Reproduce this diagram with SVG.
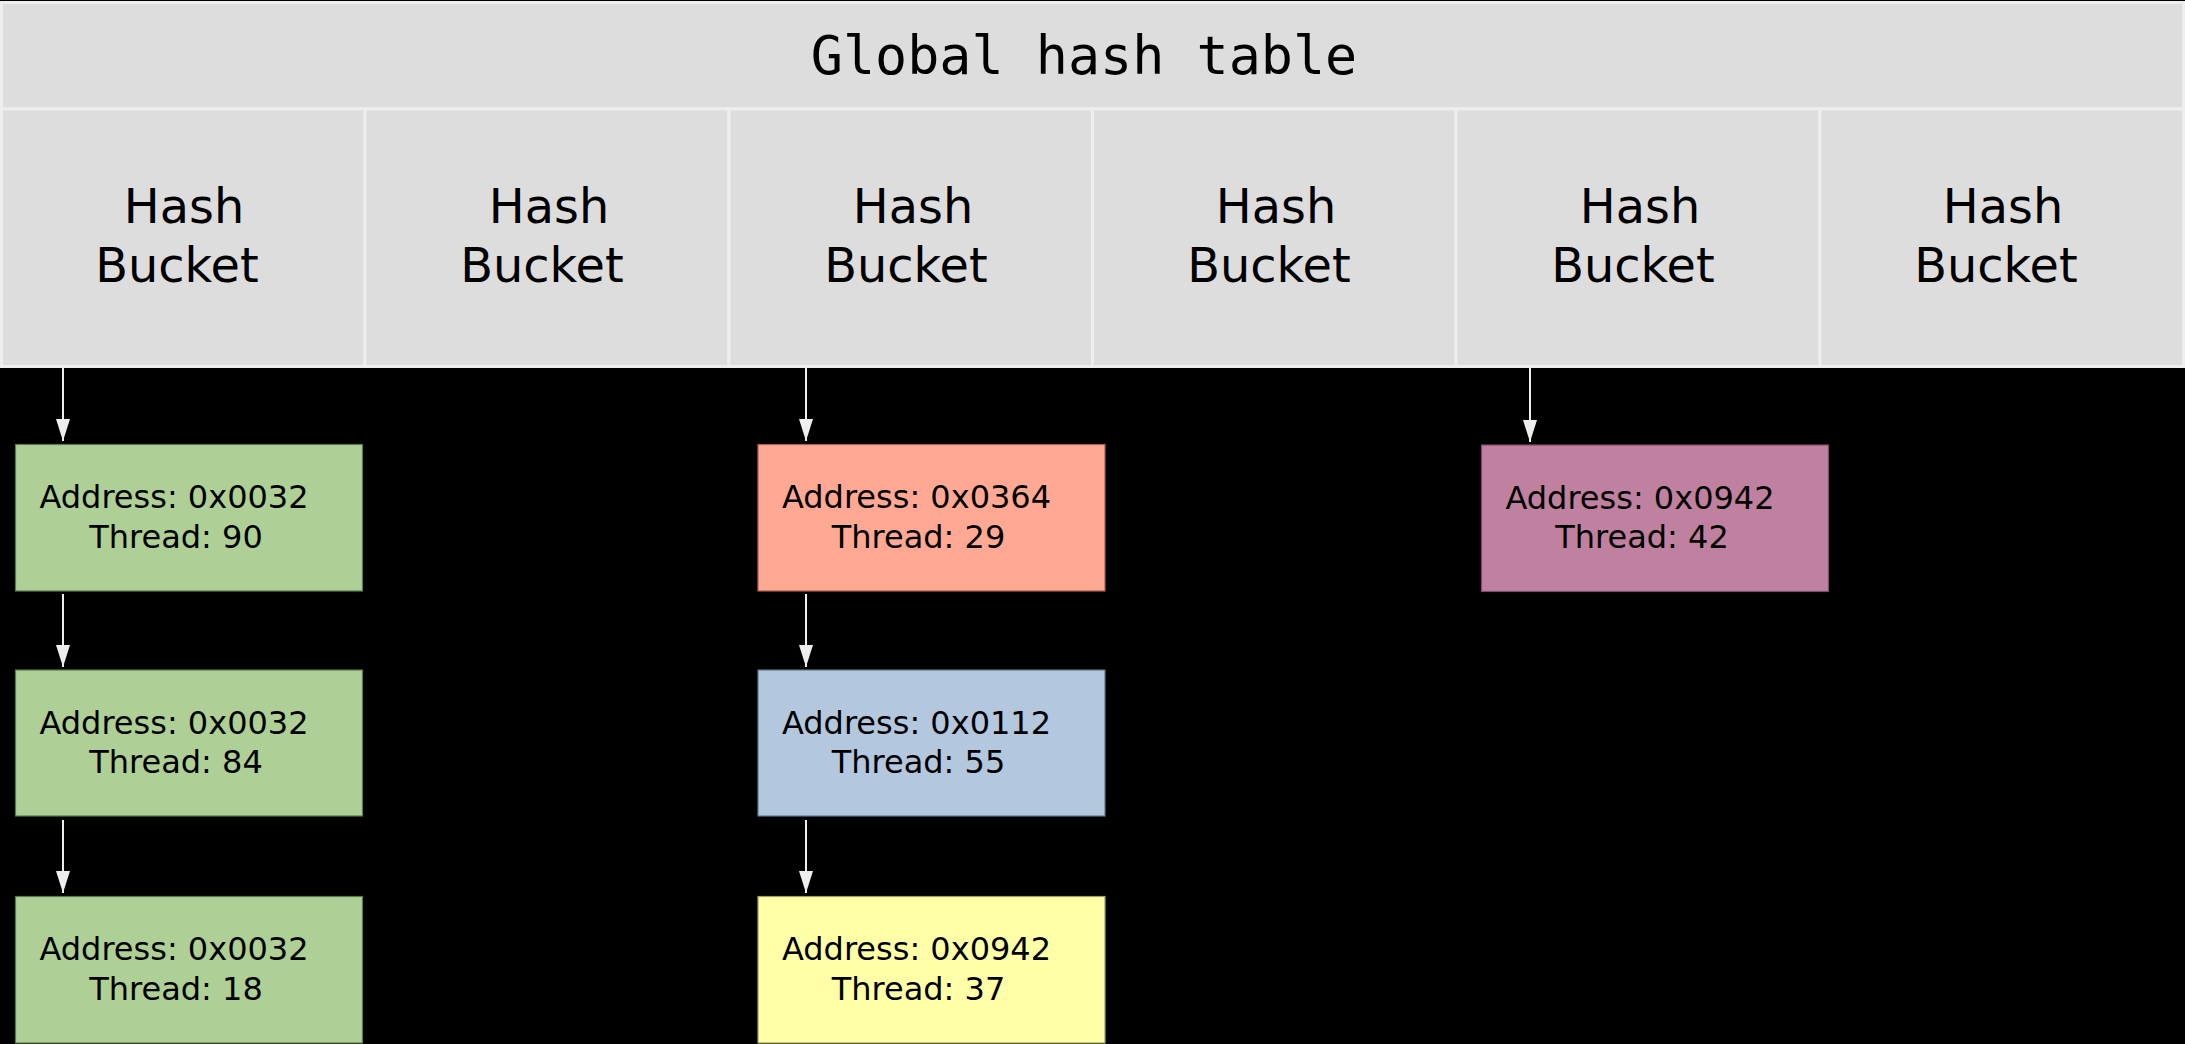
<svg xmlns="http://www.w3.org/2000/svg" width="2185" height="1044" viewBox="0 0 2185 1044">
<defs>
<style>
.cell{fill:#DDDDDD;stroke:#EEEEEE;stroke-width:3}
.title{font-family:"DejaVu Sans Mono","Liberation Mono",monospace;font-size:53.4px;fill:#000;text-anchor:middle}
.bk{font-family:"DejaVu Sans","Liberation Sans",sans-serif;font-size:47.8px;fill:#000;text-anchor:middle}
.nt{font-family:"DejaVu Sans","Liberation Sans",sans-serif;font-size:32px;fill:#000;text-anchor:middle}
.conn line{stroke:#EEEEEE;stroke-width:2;marker-end:url(#ah)}
.green{fill:#AED096;stroke:#5C7A4C;stroke-width:1.2}
.salmon{fill:#FFA994;stroke:#A8604E;stroke-width:1.2}
.blue{fill:#B3C7DE;stroke:#64748A;stroke-width:1.2}
.yellow{fill:#FFFFA8;stroke:#A0A060;stroke-width:1.2}
.mauve{fill:#C0809F;stroke:#7E4E66;stroke-width:1.2}
</style>
<marker id="ah" markerUnits="userSpaceOnUse" markerWidth="22" markerHeight="14" refX="22" refY="7" orient="auto">
<path d="M0,0 L22,7 L0,14 z" fill="#EEEEEE"/>
</marker>
</defs>
<rect width="2185" height="1044" fill="#000"/>
<g id="global-hash-table">
<rect class="cell" x="1.5" y="2.5" width="2182" height="106.5"/>
<text class="title" x="1084" y="74">Global hash table</text>
</g>
<g id="bucket-1"><rect class="cell" x="1.5" y="109" width="363.5" height="257.5"/><text class="bk" x="184" y="223">Hash</text><text class="bk" x="177" y="282">Bucket</text></g>
<g id="bucket-2"><rect class="cell" x="365" y="109" width="364" height="257.5"/><text class="bk" x="549" y="223">Hash</text><text class="bk" x="542" y="282">Bucket</text></g>
<g id="bucket-3"><rect class="cell" x="729" y="109" width="363.5" height="257.5"/><text class="bk" x="913" y="223">Hash</text><text class="bk" x="906" y="282">Bucket</text></g>
<g id="bucket-4"><rect class="cell" x="1092.5" y="109" width="363.5" height="257.5"/><text class="bk" x="1276" y="223">Hash</text><text class="bk" x="1269" y="282">Bucket</text></g>
<g id="bucket-5"><rect class="cell" x="1456" y="109" width="364" height="257.5"/><text class="bk" x="1640" y="223">Hash</text><text class="bk" x="1633" y="282">Bucket</text></g>
<g id="bucket-6"><rect class="cell" x="1820" y="109" width="363.5" height="257.5"/><text class="bk" x="2003" y="223">Hash</text><text class="bk" x="1996" y="282">Bucket</text></g>

<g id="node-0032-90"><rect class="green" x="15.5" y="444.5" width="347" height="146.5"/><text class="nt" x="174" y="508">Address: 0x0032</text><text class="nt" x="176" y="547.5">Thread: 90</text></g>
<g id="node-0032-84"><rect class="green" x="15.5" y="670" width="347" height="146"/><text class="nt" x="174" y="733.5">Address: 0x0032</text><text class="nt" x="176" y="773">Thread: 84</text></g>
<g id="node-0032-18"><rect class="green" x="15.5" y="896.5" width="347" height="146.5"/><text class="nt" x="174" y="960">Address: 0x0032</text><text class="nt" x="176" y="999.5">Thread: 18</text></g>

<g id="node-0364-29"><rect class="salmon" x="758" y="444.5" width="347" height="146.5"/><text class="nt" x="916.5" y="508">Address: 0x0364</text><text class="nt" x="918.5" y="547.5">Thread: 29</text></g>
<g id="node-0112-55"><rect class="blue" x="758" y="670" width="347" height="146"/><text class="nt" x="916.5" y="733.5">Address: 0x0112</text><text class="nt" x="918.5" y="773">Thread: 55</text></g>
<g id="node-0942-37"><rect class="yellow" x="758" y="896.5" width="347" height="146.5"/><text class="nt" x="916.5" y="960">Address: 0x0942</text><text class="nt" x="918.5" y="999.5">Thread: 37</text></g>

<g id="node-0942-42"><rect class="mauve" x="1481.5" y="445" width="347" height="146.5"/><text class="nt" x="1640" y="508.5">Address: 0x0942</text><text class="nt" x="1642" y="548">Thread: 42</text></g>

<g id="connectors" class="conn">
<line x1="63" y1="368" x2="63" y2="441"/>
<line x1="63" y1="594" x2="63" y2="667"/>
<line x1="63" y1="820" x2="63" y2="893"/>
<line x1="806" y1="368" x2="806" y2="441"/>
<line x1="806" y1="594" x2="806" y2="667"/>
<line x1="806" y1="820" x2="806" y2="893"/>
<line x1="1530" y1="368" x2="1530" y2="442"/>
</g>
</svg>
